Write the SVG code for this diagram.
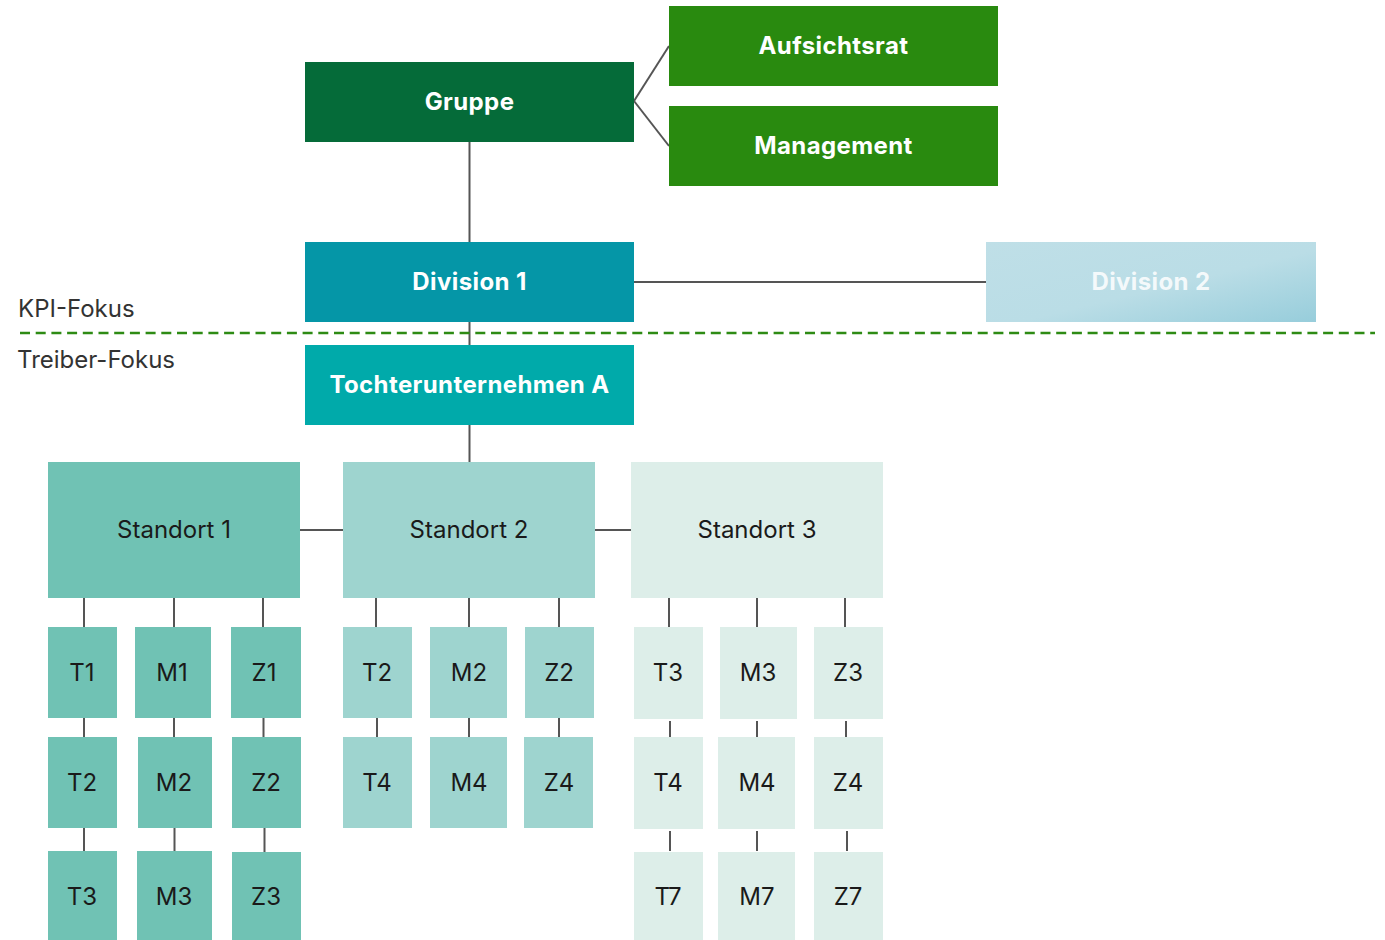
<svg xmlns="http://www.w3.org/2000/svg" width="1385" height="940" viewBox="0 0 1385 940">
  <style>
    .lbl { font-family: Inter, "Liberation Sans", sans-serif; font-size: 24px; text-anchor: middle; }
    .head { fill: #ffffff; font-weight: 700; letter-spacing: 0.4px; }
    .dark { fill: #1a1a1a; }
    .side { font-family: Inter, "Liberation Sans", sans-serif; font-size: 24px; fill: #333333; }
    .conn { stroke: #555555; stroke-width: 2; fill: none; }
    .s1 { fill: #70c2b4; }
    .s2 { fill: #9ed4cf; }
    .s3 { fill: #ddeee9; }
  </style>
  <defs>
    <linearGradient id="div2Fill" x1="0" y1="0" x2="1" y2="1">
      <stop offset="0" stop-color="#bfdfe7"/>
      <stop offset="0.55" stop-color="#badde6"/>
      <stop offset="1" stop-color="#97cddb"/>
    </linearGradient>
  </defs>

  <rect width="1385" height="940" fill="#ffffff"/>

  <!-- connectors -->
  <g id="connectors" class="conn">
    <line x1="634" y1="101" x2="669" y2="46"/>
    <line x1="634" y1="101" x2="669" y2="146"/>
    <line x1="469.5" y1="142" x2="469.5" y2="242"/>
    <line x1="634" y1="282" x2="986" y2="282"/>
    <line x1="469.5" y1="322" x2="469.5" y2="345"/>
    <line x1="469.5" y1="425" x2="469.5" y2="462"/>
    <line x1="300" y1="530" x2="343" y2="530"/>
    <line x1="595" y1="530" x2="631" y2="530"/>
    <!-- Standort 1 columns -->
    <line x1="84" y1="598" x2="84" y2="627"/>
    <line x1="174" y1="598" x2="174" y2="627"/>
    <line x1="263" y1="598" x2="263" y2="627"/>
    <line x1="84" y1="718" x2="84" y2="737"/>
    <line x1="174" y1="718" x2="174" y2="737"/>
    <line x1="263.5" y1="718" x2="263.5" y2="737"/>
    <line x1="84" y1="828" x2="84" y2="851"/>
    <line x1="174.5" y1="828" x2="174.5" y2="851"/>
    <line x1="264.5" y1="828" x2="264.5" y2="852"/>
    <!-- Standort 2 columns -->
    <line x1="376" y1="598" x2="376" y2="627"/>
    <line x1="469" y1="598" x2="469" y2="627"/>
    <line x1="559" y1="598" x2="559" y2="627"/>
    <line x1="377" y1="718" x2="377" y2="737"/>
    <line x1="469" y1="718" x2="469" y2="737"/>
    <line x1="559" y1="718" x2="559" y2="737"/>
    <!-- Standort 3 columns -->
    <line x1="669" y1="598" x2="669" y2="627"/>
    <line x1="757" y1="598" x2="757" y2="627"/>
    <line x1="845" y1="598" x2="845" y2="627"/>
    <line x1="670" y1="721" x2="670" y2="737"/>
    <line x1="757" y1="721" x2="757" y2="737"/>
    <line x1="846" y1="721" x2="846" y2="737"/>
    <line x1="670" y1="831" x2="670" y2="851"/>
    <line x1="757" y1="831" x2="757" y2="851"/>
    <line x1="847" y1="831" x2="847" y2="851"/>
  </g>

  <!-- KPI / Treiber split -->
  <line x1="20" y1="333" x2="1375" y2="333" stroke="#2e8b14" stroke-width="2.5" stroke-dasharray="10 5.7"/>
  <text class="side" x="18" y="317">KPI-Fokus</text>
  <text class="side" x="17" y="368">Treiber-Fokus</text>

  <!-- upper levels -->
  <g id="gruppe"><rect x="305" y="62" width="329" height="80" fill="#056b39"/><text class="lbl head" x="469.5" y="102" dy=".35em">Gruppe</text></g>
  <g id="aufsichtsrat"><rect x="669" y="6" width="329" height="80" fill="#298a0f"/><text class="lbl head" x="833.5" y="46" dy=".35em">Aufsichtsrat</text></g>
  <g id="management"><rect x="669" y="106" width="329" height="80" fill="#298a0f"/><text class="lbl head" x="833.5" y="146" dy=".35em">Management</text></g>
  <g id="division1"><rect x="305" y="242" width="329" height="80" fill="#0596a7"/><text class="lbl head" x="469.5" y="282" dy=".35em">Division 1</text></g>
  <g id="division2"><rect x="986" y="242" width="330" height="80" fill="url(#div2Fill)"/><text class="lbl head" x="1151" y="282" dy=".35em" fill-opacity="0.85">Division 2</text></g>
  <g id="tochter"><rect x="305" y="345" width="329" height="80" fill="#00aaaa"/><text class="lbl head" x="469.5" y="385" dy=".35em">Tochterunternehmen A</text></g>

  <!-- sites -->
  <g id="standort1"><rect class="s1" x="48" y="462" width="252" height="136"/><text class="lbl dark" x="174" y="530" dy=".35em">Standort 1</text></g>
  <g id="standort2"><rect class="s2" x="343" y="462" width="252" height="136"/><text class="lbl dark" x="469" y="530" dy=".35em">Standort 2</text></g>
  <g id="standort3"><rect class="s3" x="631" y="462" width="252" height="136"/><text class="lbl dark" x="757" y="530" dy=".35em">Standort 3</text></g>

  <!-- Standort 1 drivers -->
  <g id="s1-t1"><rect class="s1" x="48" y="627" width="69" height="91"/><text class="lbl dark" x="82" y="673" dy=".35em">T1</text></g>
  <g id="s1-m1"><rect class="s1" x="135" y="627" width="76" height="91"/><text class="lbl dark" x="172" y="673" dy=".35em">M1</text></g>
  <g id="s1-z1"><rect class="s1" x="231" y="627" width="70" height="91"/><text class="lbl dark" x="264" y="673" dy=".35em">Z1</text></g>
  <g id="s1-t2"><rect class="s1" x="48" y="737" width="69" height="91"/><text class="lbl dark" x="82" y="783" dy=".35em">T2</text></g>
  <g id="s1-m2"><rect class="s1" x="138" y="737" width="74" height="91"/><text class="lbl dark" x="174" y="783" dy=".35em">M2</text></g>
  <g id="s1-z2"><rect class="s1" x="232" y="737" width="69" height="91"/><text class="lbl dark" x="266" y="783" dy=".35em">Z2</text></g>
  <g id="s1-t3"><rect class="s1" x="48" y="851" width="69" height="89"/><text class="lbl dark" x="82" y="897" dy=".35em">T3</text></g>
  <g id="s1-m3"><rect class="s1" x="137" y="851" width="75" height="89"/><text class="lbl dark" x="174" y="897" dy=".35em">M3</text></g>
  <g id="s1-z3"><rect class="s1" x="232" y="852" width="69" height="88"/><text class="lbl dark" x="266" y="897" dy=".35em">Z3</text></g>

  <!-- Standort 2 drivers -->
  <g id="s2-t2"><rect class="s2" x="343" y="627" width="69" height="91"/><text class="lbl dark" x="377" y="673" dy=".35em">T2</text></g>
  <g id="s2-m2"><rect class="s2" x="430" y="627" width="77" height="91"/><text class="lbl dark" x="469" y="673" dy=".35em">M2</text></g>
  <g id="s2-z2"><rect class="s2" x="525" y="627" width="69" height="91"/><text class="lbl dark" x="559" y="673" dy=".35em">Z2</text></g>
  <g id="s2-t4"><rect class="s2" x="343" y="737" width="69" height="91"/><text class="lbl dark" x="377" y="783" dy=".35em">T4</text></g>
  <g id="s2-m4"><rect class="s2" x="430" y="737" width="77" height="91"/><text class="lbl dark" x="469" y="783" dy=".35em">M4</text></g>
  <g id="s2-z4"><rect class="s2" x="524" y="737" width="69" height="91"/><text class="lbl dark" x="559" y="783" dy=".35em">Z4</text></g>

  <!-- Standort 3 drivers -->
  <g id="s3-t3"><rect class="s3" x="634" y="627" width="69" height="92"/><text class="lbl dark" x="668" y="673" dy=".35em">T3</text></g>
  <g id="s3-m3"><rect class="s3" x="720" y="627" width="77" height="92"/><text class="lbl dark" x="758" y="673" dy=".35em">M3</text></g>
  <g id="s3-z3"><rect class="s3" x="814" y="627" width="69" height="92"/><text class="lbl dark" x="848" y="673" dy=".35em">Z3</text></g>
  <g id="s3-t4"><rect class="s3" x="634" y="737" width="69" height="92"/><text class="lbl dark" x="668" y="783" dy=".35em">T4</text></g>
  <g id="s3-m4"><rect class="s3" x="718" y="737" width="77" height="92"/><text class="lbl dark" x="757" y="783" dy=".35em">M4</text></g>
  <g id="s3-z4"><rect class="s3" x="814" y="737" width="69" height="92"/><text class="lbl dark" x="848" y="783" dy=".35em">Z4</text></g>
  <g id="s3-t7"><rect class="s3" x="634" y="852" width="69" height="88"/><text class="lbl dark" x="668" y="897" dy=".35em">T7</text></g>
  <g id="s3-m7"><rect class="s3" x="718" y="852" width="77" height="88"/><text class="lbl dark" x="757" y="897" dy=".35em">M7</text></g>
  <g id="s3-z7"><rect class="s3" x="814" y="852" width="69" height="88"/><text class="lbl dark" x="848" y="897" dy=".35em">Z7</text></g>
</svg>
